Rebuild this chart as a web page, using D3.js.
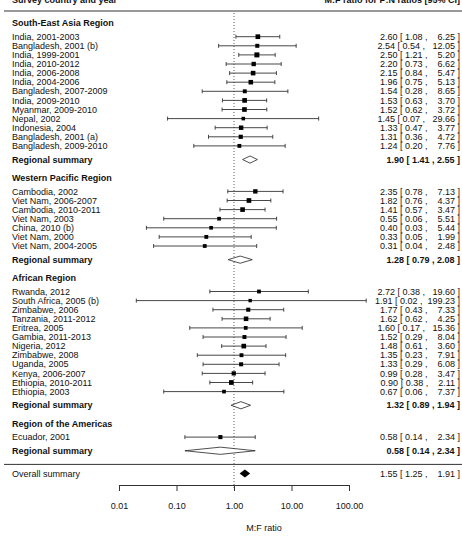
<!DOCTYPE html>
<html>
<head>
<meta charset="utf-8">
<script src="https://cdn.jsdelivr.net/npm/d3@7"></script>
<style>
  body { margin: 0; background: #fff; }
  svg text { font-family: "Liberation Sans", Arial, sans-serif; font-size: 9px; fill: #111; }
</style>
</head>
<body>
<div class="forest-container"></div>
<script>
// regions in plot order
const regions = ["South-East Asia Region", "Western Pacific Region", "African Region", "Region of the Americas"];

// studies (label, region index, ratio, lower, upper)
const studies = [
    "India, 2001-2003", "Bangladesh, 2001 (b)", "India, 1999-2001", "India, 2010-2012", "India, 2006-2008",
    "India, 2004-2006", "Bangladesh, 2007-2009", "India, 2009-2010", "Myanmar, 2009-2010", "Nepal, 2002",
    "Indonesia, 2004", "Bangladesh, 2001 (a)", "Bangladesh, 2009-2010",
    "Cambodia, 2002", "Viet Nam, 2006-2007", "Cambodia, 2010-2011", "Viet Nam, 2003", "China, 2010 (b)",
    "Viet Nam, 2000", "Viet Nam, 2004-2005",
    "Rwanda, 2012", "South Africa, 2005 (b)", "Zimbabwe, 2006", "Tanzania, 2011-2012", "Eritrea, 2005",
    "Gambia, 2011-2013", "Nigeria, 2012", "Zimbabwe, 2008", "Uganda, 2005", "Kenya, 2006-2007",
    "Ethiopia, 2010-2011", "Ethiopia, 2003",
    "Ecuador, 2001"
];
const studyRegion = [0,0,0,0,0,0,0,0,0,0,0,0,0, 1,1,1,1,1,1,1, 2,2,2,2,2,2,2,2,2,2,2,2, 3];
const ratio = [2.60, 2.54, 2.50, 2.20, 2.15, 1.96, 1.54, 1.53, 1.52, 1.45, 1.33, 1.31, 1.24,
    2.35, 1.82, 1.41, 0.55, 0.40, 0.33, 0.31,
    2.72, 1.91, 1.77, 1.62, 1.60, 1.52, 1.48, 1.35, 1.33, 0.99, 0.90, 0.67,
    0.58];
const lower = [1.08, 0.54, 1.21, 0.73, 0.84, 0.75, 0.28, 0.63, 0.62, 0.07, 0.47, 0.36, 0.20,
    0.78, 0.76, 0.57, 0.06, 0.03, 0.05, 0.04,
    0.38, 0.02, 0.43, 0.62, 0.17, 0.29, 0.61, 0.23, 0.29, 0.28, 0.38, 0.06,
    0.14];
const upper = [6.25, 12.05, 5.20, 6.62, 5.47, 5.13, 8.65, 3.70, 3.72, 29.66, 3.77, 4.72, 7.76,
    7.13, 4.37, 3.47, 5.51, 5.44, 1.99, 2.48,
    19.60, 199.23, 7.33, 4.25, 15.36, 8.04, 3.60, 7.91, 6.08, 3.47, 2.11, 7.37,
    2.34];

// regional summaries
const summaryRatio = [1.90, 1.28, 1.32, 0.58];
const summaryLower = [1.41, 0.79, 0.89, 0.14];
const summaryUpper = [2.55, 2.08, 1.94, 2.34];

// overall summary
const overall = [1.55, 1.25, 1.91];

const axisTicks = [0.01, 0.1, 1, 10, 100];

const width = 462;
const height = 536;

const svg = d3.select(".forest-container").append("svg")
    .attr("width", width)
    .attr("height", height);

const x = d3.scaleLog().domain([0.01, 100]).range([119, 349]);
const y = d3.scaleLinear().domain([0, 48]).range([36.7, 473.5]);   // row units

const labelX = 12;
const valueX = 460;

// row layout: heading, studies, summary, gap
let rows = [];
let k = -1.5;
regions.forEach((r, ri) => {
    rows.push({ type: "heading", k: k, label: r });
    k += 1.5;
    studies.forEach((s, i) => {
        if (studyRegion[i] === ri) {
            rows.push({ type: "study", k: k, i: i });
            k += 1;
        }
    });
    k += 0.5;
    rows.push({ type: "summary", k: k, ri: ri });
    k += 2;
});

// point sizes from precision (metafor style)
const prec = studies.map((s, i) => 3.92 / (Math.log(upper[i]) - Math.log(lower[i])));
const psize = d3.scaleLinear().domain(d3.extent(prec)).range([3.4, 5]);

const fmt = d3.format(".2f");
const annot = (e, l, u) => `${fmt(e)} [ ${fmt(l)} ,  ${fmt(u).padStart(6)} ]`;

// header
svg.append("text").attr("x", labelX).attr("y", 3)
    .style("font-weight", "bold").text("Survey country and year");
svg.append("text").attr("x", valueX).attr("y", 3).attr("text-anchor", "end")
    .style("font-weight", "bold").text("M:F ratio for P:N ratios [95% CI]");

svg.append("line").attr("x1", 4).attr("x2", width).attr("y1", 11).attr("y2", 11)
    .attr("stroke", "#333").attr("stroke-width", 1);
svg.append("line").attr("x1", 4).attr("x2", width).attr("y1", y(47)).attr("y2", y(47))
    .attr("stroke", "#333").attr("stroke-width", 1);

// reference line at 1
svg.append("line")
    .attr("x1", x(1)).attr("x2", x(1))
    .attr("y1", 13).attr("y2", 489)
    .attr("stroke", "#333").attr("stroke-width", 0.8)
    .attr("stroke-dasharray", "1,2");

const g = svg.append("g");

rows.forEach(r => {
    const cy = y(r.k);
    if (r.type === "heading") {
        g.append("text").attr("x", labelX).attr("y", cy).attr("dy", "0.35em")
            .style("font-weight", "bold").text(r.label);
    } else if (r.type === "study") {
        const i = r.i;
        g.append("text").attr("x", labelX).attr("y", cy).attr("dy", "0.35em").text(studies[i]);
        g.append("line").attr("x1", x(lower[i])).attr("x2", x(upper[i]))
            .attr("y1", cy).attr("y2", cy).attr("stroke", "#333").attr("stroke-width", 0.9);
        [lower[i], upper[i]].forEach(v => {
            g.append("line").attr("x1", x(v)).attr("x2", x(v))
                .attr("y1", cy - 2).attr("y2", cy + 2).attr("stroke", "#333").attr("stroke-width", 0.9);
        });
        const s = psize(prec[i]);
        g.append("rect").attr("x", x(ratio[i]) - s / 2).attr("y", cy - s / 2)
            .attr("width", s).attr("height", s).attr("fill", "#000");
        g.append("text").attr("x", valueX).attr("y", cy).attr("dy", "0.35em")
            .attr("text-anchor", "end").style("white-space", "pre")
            .text(annot(ratio[i], lower[i], upper[i]));
    } else {
        const ri = r.ri;
        g.append("text").attr("x", labelX).attr("y", cy).attr("dy", "0.35em")
            .style("font-weight", "bold").text("Regional summary");
        const h = 3.6;
        g.append("polygon")
            .attr("points", [[x(summaryLower[ri]), cy], [x(summaryRatio[ri]), cy - h],
                [x(summaryUpper[ri]), cy], [x(summaryRatio[ri]), cy + h]].join(" "))
            .attr("fill", "#fff").attr("stroke", "#222").attr("stroke-width", 0.8);
        g.append("text").attr("x", valueX).attr("y", cy).attr("dy", "0.35em")
            .attr("text-anchor", "end").style("font-weight", "bold")
            .text(`${fmt(summaryRatio[ri])} [ ${fmt(summaryLower[ri])} , ${fmt(summaryUpper[ri])} ]`);
    }
});

// overall summary
const oy = y(48);
svg.append("text").attr("x", labelX).attr("y", oy).attr("dy", "0.35em").text("Overall summary");
svg.append("polygon")
    .attr("points", [[x(overall[1]), oy], [x(overall[0]), oy - 4],
        [x(overall[2]), oy], [x(overall[0]), oy + 4]].join(" "))
    .attr("fill", "#000");
svg.append("text").attr("x", valueX).attr("y", oy).attr("dy", "0.35em")
    .attr("text-anchor", "end").style("white-space", "pre")
    .text(annot(overall[0], overall[1], overall[2]));

// x axis
const axis = svg.append("g")
    .attr("transform", "translate(0,485)")
    .call(d3.axisBottom(x).tickValues(axisTicks).tickFormat(fmt).tickSizeOuter(0).tickSize(6).tickPadding(12));
axis.select(".domain").attr("stroke", "#333");
axis.selectAll(".tick line").attr("stroke", "#333");
axis.selectAll("text").style("font-family", "'Liberation Sans', Arial, sans-serif").style("font-size", "9px").attr("fill", "#111");

svg.append("text").attr("x", 264).attr("y", 531).attr("text-anchor", "middle").text("M:F ratio");
</script>
</body>
</html>
